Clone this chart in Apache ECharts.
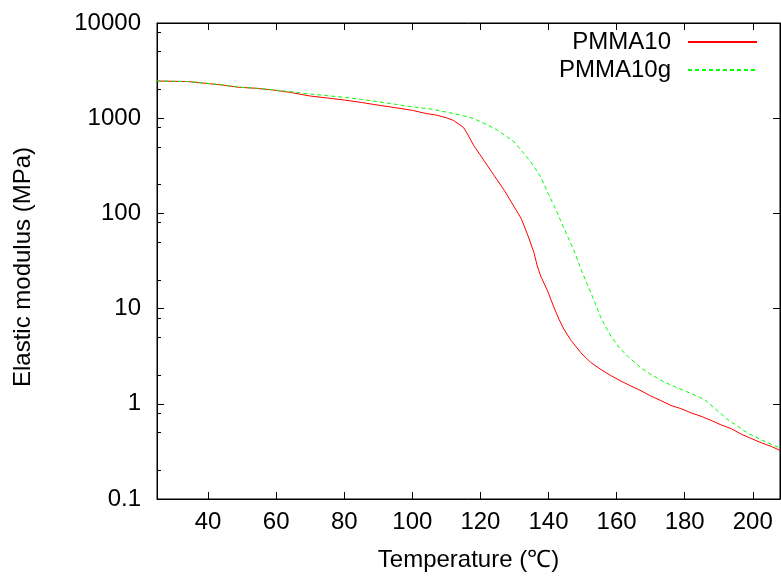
<!DOCTYPE html>
<html>
<head>
<meta charset="utf-8">
<script src="https://cdn.jsdelivr.net/npm/echarts@6/dist/echarts.min.js"></script>
<style>
html,body{margin:0;padding:0;background:#fff;}
#chart{width:781px;height:577px;}
</style>
</head>
<body>
<div id="chart"></div>
<script>
// Data
const tempPMMA10 = [25,30,34,39,44,49,54,59,64,70,75,80,85,90,95,100,104,107,110,112,114,115,116,118,121,124,127,130,132,134,135.7,136.7,137.7,139.7,141.6,143.1,144.5,146.5,149.5,152.4,155.4,158.3,161.3,164,167.2,170,173,176,178.9,182,184.8,187.7,190.7,193.6,196.6,199,202.5,205.4,208];
const modPMMA10 = [2460,2440,2427,2330,2234,2113,2062,1979,1871,1710,1630,1552,1465,1370,1290,1210,1120,1080,1010,950,850,800,703,520,361,251,175,116,88,58,39,28,22,15.4,10.3,7.7,6.1,4.7,3.44,2.72,2.29,1.98,1.73,1.55,1.37,1.21,1.08,0.96,0.89,0.8,0.74,0.67,0.6,0.55,0.48,0.44,0.39,0.357,0.324];

const tempPMMA10g = [25,30,34,39,44,49,54,59,64,70,75,80,85,90,95,100,105.3,109.3,112,115.1,118,120.1,122.5,125,127.5,129.9,132.8,134.8,137.7,139.7,141.6,144.6,147.5,149.5,152.4,155.4,158.3,160.8,163.2,167.1,170.1,174,177.9,181.9,185.8,188.7,192.7,195.6,198.5,202.5,206.4,208];
const modPMMA10g = [2460,2440,2427,2340,2240,2120,2070,1990,1900,1795,1725,1657,1575,1490,1400,1315,1250,1171,1120,1060,990,918,835,748,650,565,425,348,242,168,121,69,40.6,26.1,14.8,8.0,5.15,3.89,3.17,2.39,2.03,1.69,1.47,1.28,1.11,0.905,0.68,0.58,0.493,0.419,0.362,0.343];

const xTicks = [40,60,80,100,120,140,160,180,200];
const yTicks = [0.1,1,10,100,1000,10000];
const yMinorTicks = [0.2,0.5,0.8,2,5,8,20,50,80,200,500,800,2000,5000,8000];

const FONT = 'Liberation Sans, Arial, Helvetica, sans-serif';
const black = '#000';

const chart = echarts.init(document.getElementById('chart'), null, {renderer:'canvas'});

function pairs(xs, ys){ return xs.map((x,i)=>[x, ys[i]]); }
function fmt(v){ return String(parseFloat(Number(v).toPrecision(6))); }

const option = {
  animation:false,
  backgroundColor:'#fff',
  textStyle:{fontFamily:FONT},
  grid:{left:157, right:1, top:23, bottom:77, show:true, borderColor:black, borderWidth:1, containLabel:false},
  legend:{
    orient:'vertical', right:23, top:30, padding:0, itemGap:4, align:'right',
    itemWidth:69, itemHeight:14,
    itemStyle:{color:'rgba(0,0,0,0)', borderWidth:0, opacity:0},
    textStyle:{fontSize:24, color:black, fontFamily:FONT, lineHeight:24, padding:[0,12,0,0]},
    data:['PMMA10','PMMA10g']
  },
  xAxis:[
    {
      type:'value', min:25, max:208, position:'bottom',
      name:'Temperature (℃)', nameLocation:'middle', nameGap:49,
      nameTextStyle:{fontSize:24, color:black, fontFamily:FONT},
      axisLine:{show:true, onZero:false, lineStyle:{color:black, width:1}},
      axisTick:{show:true, inside:true, length:7, customValues:xTicks, lineStyle:{color:black, width:1}},
      axisLabel:{show:true, customValues:xTicks, fontSize:24, color:black, fontFamily:FONT, margin:11},
      splitLine:{show:false}
    },
    {
      type:'value', min:25, max:208, position:'top',
      axisLine:{show:true, onZero:false, lineStyle:{color:black, width:1}},
      axisTick:{show:true, inside:true, length:7, customValues:xTicks, lineStyle:{color:black, width:1}},
      axisLabel:{show:false},
      splitLine:{show:false}
    }
  ],
  yAxis:[
    {
      type:'log', logBase:10, min:0.1, max:10000, position:'left',
      name:'Elastic modulus (MPa)', nameLocation:'middle', nameGap:122,
      nameTextStyle:{fontSize:24, color:black, fontFamily:FONT, padding:[0,12,0,0]},
      axisLine:{show:true, lineStyle:{color:black, width:1}},
      axisTick:{show:true, inside:true, length:7, customValues:yTicks, lineStyle:{color:black, width:1}},
      axisLabel:{show:true, customValues:yTicks, fontSize:24, color:black, fontFamily:FONT, margin:16, formatter:fmt},
      splitLine:{show:false}
    },
    {
      type:'log', logBase:10, min:0.1, max:10000, position:'left',
      axisLine:{show:false},
      axisTick:{show:true, inside:true, length:4, customValues:yMinorTicks, lineStyle:{color:black, width:1}},
      axisLabel:{show:false},
      splitLine:{show:false}
    },
    {
      type:'log', logBase:10, min:0.1, max:10000, position:'right',
      axisLine:{show:true, lineStyle:{color:black, width:1}},
      axisTick:{show:true, inside:true, length:7, customValues:yTicks, lineStyle:{color:black, width:1}},
      axisLabel:{show:false},
      splitLine:{show:false}
    }
  ],
  series:[
    {
      name:'PMMA10', type:'line', xAxisIndex:0, yAxisIndex:0,
      symbol:'none', showSymbol:false, clip:true,
      lineStyle:{color:'#ff0000', width:1, type:'solid'},
      itemStyle:{color:'#ff0000'},
      data:pairs(tempPMMA10, modPMMA10)
    },
    {
      name:'PMMA10g', type:'line', xAxisIndex:0, yAxisIndex:0,
      symbol:'none', showSymbol:false, clip:true,
      lineStyle:{color:'#00ff00', width:1, type:[4,3]},
      itemStyle:{color:'#00ff00'},
      data:pairs(tempPMMA10g, modPMMA10g)
    }
  ]
};
chart.setOption(option);
</script>
</body>
</html>
